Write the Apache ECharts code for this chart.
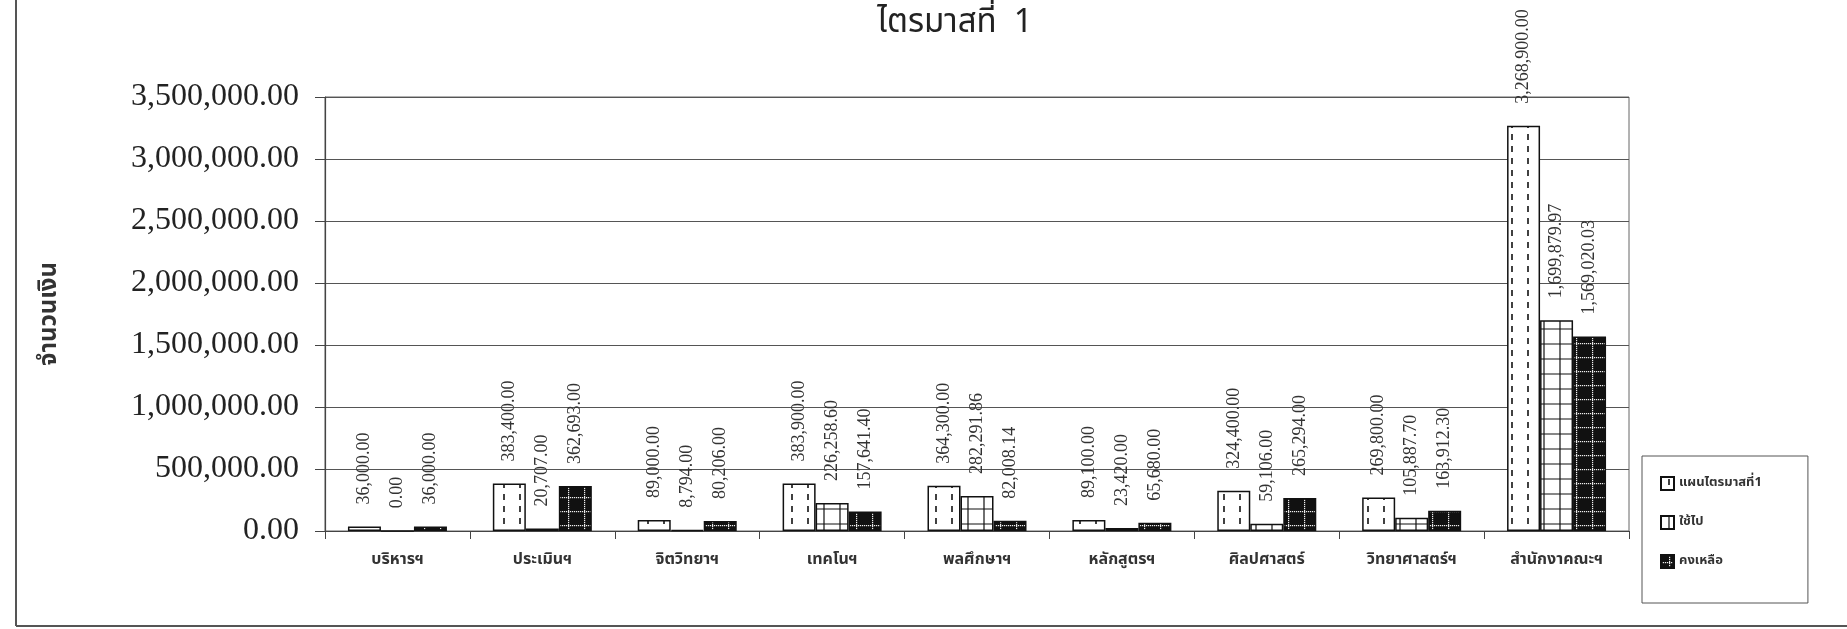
<!DOCTYPE html>
<html>
<head>
<meta charset="utf-8">
<script src="https://cdn.jsdelivr.net/npm/echarts@6/dist/echarts.min.js"></script>
<style>
  html, body { margin: 0; padding: 0; background: #fff; }
  #chart { width: 1847px; height: 629px; }
</style>
</head>
<body>
<div id="chart"></div>
<script>
var categories = ['บริหารฯ', 'ประเมินฯ', 'จิตวิทยาฯ', 'เทคโนฯ', 'พลศึกษาฯ', 'หลักสูตรฯ', 'ศิลปศาสตร์', 'วิทยาศาสตร์ฯ', 'สำนักงาคณะฯ'];
var seriesNames = ['แผนไตรมาสที่1', 'ใช้ไป', 'คงเหลือ'];
var planned = [36000, 383400, 89000, 383900, 364300, 89100, 324400, 269800, 3268900];
var spent = [0, 20707, 8794, 226258.60, 282291.86, 23420, 59106, 105887.70, 1699879.97];
var remaining = [36000, 362693, 80206, 157641.40, 82008.14, 65680, 265294, 163912.30, 1569020.03];
var yTicks = [0, 500000, 1000000, 1500000, 2000000, 2500000, 3000000, 3500000];

var thaiFont = "'Noto Sans Thai', 'Noto Sans Thai UI', Loma, Garuda, 'Tlwg Typo', 'Noto Sans', sans-serif";
var serifFont = "'Liberation Serif', 'Times New Roman', serif";

function money(v) {
    return Number(v).toLocaleString('en-US', { minimumFractionDigits: 2, maximumFractionDigits: 2 });
}

// hatch patterns like the old office chart
function makePattern(kind) {
    var c = document.createElement('canvas');
    var ctx = c.getContext('2d');
    if (kind === 'dash') {
        c.width = 16; c.height = 12;
        ctx.fillStyle = '#fff';
        ctx.fillRect(0, 0, 16, 12);
        ctx.strokeStyle = '#111';
        ctx.lineWidth = 1.6;
        ctx.beginPath();
        ctx.moveTo(8, 2); ctx.lineTo(8, 8);
        ctx.stroke();
    } else if (kind === 'grid') {
        c.width = 16; c.height = 15;
        ctx.fillStyle = '#fff';
        ctx.fillRect(0, 0, 16, 15);
        ctx.strokeStyle = '#111';
        ctx.lineWidth = 1.2;
        ctx.beginPath();
        ctx.moveTo(8, 0); ctx.lineTo(8, 15);
        ctx.moveTo(0, 14); ctx.lineTo(16, 14);
        ctx.stroke();
    } else {
        c.width = 16; c.height = 14;
        ctx.fillStyle = '#111';
        ctx.fillRect(0, 0, 16, 14);
        ctx.fillStyle = '#eee';
        for (var x = 0; x < 16; x += 2) ctx.fillRect(x, 7, 1.2, 1.2);
        for (var y = 0; y < 14; y += 2) ctx.fillRect(8, y, 1.2, 1.2);
    }
    return { image: c, repeat: 'repeat' };
}

var patterns = [makePattern('dash'), makePattern('grid'), makePattern('dots')];
var values = [planned, spent, remaining];

var chart = echarts.init(document.getElementById('chart'));

var series = values.map(function (data, i) {
    return {
        name: seriesNames[i],
        type: 'bar',
        barWidth: 33,
        barGap: '0%',
        data: data,
        itemStyle: {
            color: patterns[i],
            borderColor: '#111',
            borderWidth: 1.5
        },
        label: {
            show: true,
            position: 'top',
            rotate: 90,
            align: 'left',
            verticalAlign: 'middle',
            distance: 22,
            fontFamily: serifFont,
            fontSize: 18,
            color: '#333',
            formatter: function (p) { return money(p.value); }
        }
    };
});

var option = {
    backgroundColor: '#fff',
    animation: false,
    title: {
        text: 'ไตรมาสที่  1',
        left: 950,
        top: 4,
        textAlign: 'center',
        textStyle: { fontFamily: thaiFont, fontSize: 33, fontWeight: 'normal', color: '#222' }
    },
    legend: {
        orient: 'vertical',
        left: 1642,
        top: 456,
        itemWidth: 13,
        itemHeight: 13,
        itemGap: 24,
        padding: [20, 46, 34, 18],
        borderColor: '#555',
        borderWidth: 1,
        icon: 'rect',
        textStyle: { fontFamily: thaiFont, fontSize: 13, fontWeight: 'bold', color: '#333' },
        data: seriesNames
    },
    grid: {
        left: 325,
        right: 218,
        top: 97,
        bottom: 98,
        show: true,
        borderColor: '#666',
        borderWidth: 1,
        containLabel: false
    },
    xAxis: {
        type: 'category',
        data: categories,
        axisLine: { lineStyle: { color: '#444', width: 1.2 } },
        axisTick: { show: true, length: 8, lineStyle: { color: '#444' } },
        axisLabel: {
            margin: 22,
            fontFamily: thaiFont,
            fontSize: 16,
            fontWeight: 'bold',
            color: '#333'
        }
    },
    yAxis: {
        type: 'value',
        name: 'จำนวนเงิน',
        nameLocation: 'middle',
        nameGap: 262,
        nameRotate: 90,
        nameTextStyle: { fontFamily: thaiFont, fontSize: 24, fontWeight: 'bold', color: '#333' },
        min: yTicks[0],
        max: yTicks[yTicks.length - 1],
        interval: yTicks[1] - yTicks[0],
        axisLine: { show: true, lineStyle: { color: '#444', width: 1.2 } },
        axisTick: { show: true, length: 10, lineStyle: { color: '#444' } },
        splitLine: { lineStyle: { color: '#555', width: 1 } },
        axisLabel: {
            margin: 26,
            fontFamily: serifFont,
            fontSize: 32,
            color: '#222',
            formatter: function (v) { return money(v); }
        }
    },
    graphic: [
        { type: 'line', shape: { x1: 16, y1: 0, x2: 16, y2: 626 }, style: { stroke: '#555', lineWidth: 2 } },
        { type: 'line', shape: { x1: 16, y1: 626, x2: 1847, y2: 626 }, style: { stroke: '#555', lineWidth: 2 } }
    ],
    series: series
};

chart.setOption(option);
</script>
</body>
</html>
